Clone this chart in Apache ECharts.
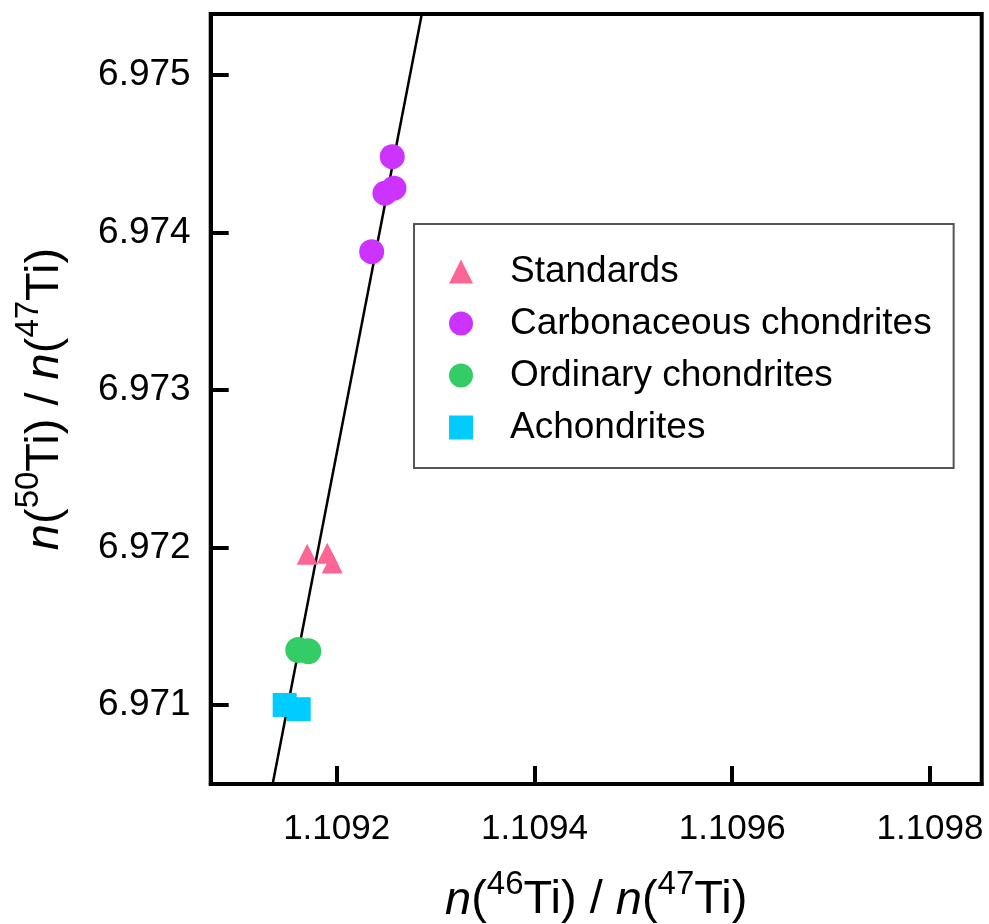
<!DOCTYPE html>
<html>
<head>
<meta charset="utf-8">
<script src="https://cdn.jsdelivr.net/npm/echarts@6/dist/echarts.min.js"></script>
<style>
  html, body { margin: 0; padding: 0; background: #fff; }
  #main { width: 989px; height: 924px; }
</style>
</head>
<body>
<div id="main"></div>
<script>
// 数据
var standardsX = [1.1091702, 1.1091905, 1.1091955];
var standardsY = [6.971957, 6.971963, 6.971902];
var carbonX = [1.1092562, 1.1092488, 1.1092579, 1.1092354];
var carbonY = [6.974481, 6.974249, 6.974281, 6.973878];
var ordinaryX = [1.1091612, 1.1091713];
var ordinaryY = [6.971349, 6.971341];
var achondX = [1.1091474, 1.1091616];
var achondY = [6.971000, 6.970973];
var lineX = [1.1091353, 1.1092862];
var lineY = [6.9705, 6.97539];
var xTicks = [1.1092, 1.1094, 1.1096, 1.1098];
var yTicks = [6.971, 6.972, 6.973, 6.974, 6.975];

function pairs(xs, ys) {
    var out = [];
    for (var i = 0; i < xs.length; i++) {
        out.push([xs[i], ys[i]]);
    }
    return out;
}

var font = 'Liberation Sans';
var nameRich = {
    it: { fontFamily: font, fontSize: 47, fontStyle: 'italic', color: '#000', lineHeight: 56, verticalAlign: 'bottom' },
    n: { fontFamily: font, fontSize: 47, color: '#000', lineHeight: 56, verticalAlign: 'bottom' },
    sup: { fontFamily: font, fontSize: 33, color: '#000', lineHeight: 33, verticalAlign: 'top' }
};

var myChart = echarts.init(document.getElementById('main'));
var option = {
    animation: false,
    backgroundColor: '#fff',
    grid: {
        left: 210.7, right: 7.3, top: 14, bottom: 140,
        outerBoundsMode: 'none',
        containLabel: false,
        show: true, borderColor: '#000', borderWidth: 4
    },
    legend: {
        data: ['Standards', 'Carbonaceous chondrites', 'Ordinary chondrites', 'Achondrites'],
        orient: 'vertical',
        left: 414, top: 224,
        padding: [29, 22, 22, 35],
        itemWidth: 24, itemHeight: 24,
        itemGap: 15,
        borderColor: '#555', borderWidth: 2,
        textStyle: { fontFamily: font, fontSize: 37, color: '#000', padding: [0, 0, 0, 32] }
    },
    xAxis: {
        type: 'value',
        min: 1.1090726, max: 1.1098523,
        axisLine: { show: true, lineStyle: { color: '#000', width: 4 } },
        axisTick: { show: true, inside: true, length: 18, customValues: xTicks, lineStyle: { color: '#000', width: 4 } },
        axisLabel: { customValues: xTicks, margin: 28, fontFamily: font, fontSize: 35, color: '#000',
            formatter: function (v) { return v.toFixed(4); } },
        splitLine: { show: false },
        name: '{it|n}{n|(}{sup|46}{n|Ti) / }{it|n}{n|(}{sup|47}{n|Ti)}',
        nameLocation: 'middle',
        nameGap: 84,
        nameTextStyle: { rich: nameRich }
    },
    yAxis: {
        type: 'value',
        min: 6.970498, max: 6.975387,
        axisLine: { show: true, lineStyle: { color: '#000', width: 4 } },
        axisTick: { show: true, inside: true, length: 18, customValues: yTicks, lineStyle: { color: '#000', width: 4 } },
        axisLabel: { customValues: yTicks, margin: 20, fontFamily: font, fontSize: 37, color: '#000',
            formatter: function (v) { return v.toFixed(3); } },
        splitLine: { show: false },
        name: '{it|n}{n|(}{sup|50}{n|Ti) / }{it|n}{n|(}{sup|47}{n|Ti)}',
        nameLocation: 'middle',
        nameGap: 142,
        nameTextStyle: { rich: nameRich }
    },
    series: [
        {
            name: 'fit', type: 'line', data: pairs(lineX, lineY),
            showSymbol: false, silent: true, clip: true, z: 1,
            lineStyle: { color: '#000', width: 2.5 }
        },
        {
            name: 'Standards', type: 'scatter', symbol: 'triangle', symbolSize: 21,
            data: pairs(standardsX, standardsY), itemStyle: { color: '#fb6694', opacity: 1 }, z: 3
        },
        {
            name: 'Carbonaceous chondrites', type: 'scatter', symbol: 'circle', symbolSize: 25,
            data: pairs(carbonX, carbonY), itemStyle: { color: '#cc33ff', opacity: 1 }, z: 3
        },
        {
            name: 'Ordinary chondrites', type: 'scatter', symbol: 'circle', symbolSize: 26,
            data: pairs(ordinaryX, ordinaryY), itemStyle: { color: '#33cc66', opacity: 1 }, z: 3
        },
        {
            name: 'Achondrites', type: 'scatter', symbol: 'rect', symbolSize: 24,
            data: pairs(achondX, achondY), itemStyle: { color: '#00ccff', opacity: 1 }, z: 3
        }
    ]
};
myChart.setOption(option);
</script>
</body>
</html>
